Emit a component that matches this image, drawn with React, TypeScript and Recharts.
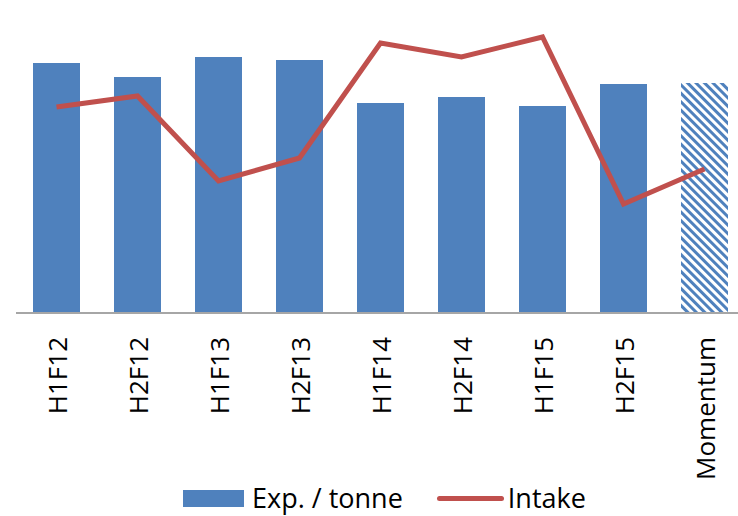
import { Bar, Cell, ComposedChart, Legend, Line, XAxis, YAxis } from "recharts";

const categories = ["H1F12", "H2F12", "H1F13", "H2F13", "H1F14", "H2F14", "H1F15", "H2F15", "Momentum"];
const expPerTonne = [250, 236, 256, 253, 210, 216, 207, 229, 230];
const intake = [206, 217, 132, 155, 270, 256, 276, 109, 144];
const hatchedCategory = "Momentum";

const BAR_COLOR = "#4F81BD";
const LINE_COLOR = "#C0504D";
const FONT = "'Open Sans', 'Noto Sans', sans-serif";

const rows = categories.map((name, i) => ({
  name,
  exp: expPerTonne[i],
  intake: intake[i],
}));

function RotatedTick({ x, y, payload }: { x?: number; y?: number; payload?: { value: string } }) {
  const tx = (x ?? 0) + 10;
  const ty = (y ?? 0) + 16;
  return (
    <text
      x={tx}
      y={ty}
      transform={`rotate(-90, ${tx}, ${ty})`}
      textAnchor="end"
      fontFamily={FONT}
      fontSize={26}
      fill="#000"
    >
      {payload?.value}
    </text>
  );
}

function ChartLegend() {
  return (
    <div
      style={{
        display: "flex",
        alignItems: "center",
        boxSizing: "border-box",
        height: 40,
        paddingTop: 6,
        paddingBottom: 2,
        paddingLeft: 167,
        fontFamily: FONT,
        fontSize: 27,
        color: "#000",
        lineHeight: "30px",
      }}
    >
      <span style={{ width: 61, height: 17, background: BAR_COLOR, display: "inline-block" }} />
      <span style={{ marginLeft: 8 }}>Exp. / tonne</span>
      <span
        style={{
          width: 67,
          height: 5,
          background: LINE_COLOR,
          borderRadius: 3,
          display: "inline-block",
          marginLeft: 34,
        }}
      />
      <span style={{ marginLeft: 4 }}>Intake</span>
    </div>
  );
}

export default function App() {
  return (
    <div
      style={{
        position: "absolute",
        top: 0,
        left: 0,
        width: 738,
        height: 516,
        overflow: "hidden",
        background: "#fff",
      }}
    >
      <ComposedChart
        width={750}
        height={516}
        data={rows}
        margin={{ top: 13, right: 5, bottom: 0, left: 16 }}
      >
        <defs>
          <pattern
            id="hatch"
            patternUnits="userSpaceOnUse"
            width={6}
            height={6}
            patternTransform="rotate(-45)"
          >
            <rect width={6} height={6} fill="#fff" />
            <line x1={1.5} y1={0} x2={1.5} y2={6} stroke={BAR_COLOR} strokeWidth={3} />
          </pattern>
        </defs>
        <XAxis
          dataKey="name"
          interval={0}
          height={163}
          tickLine={false}
          axisLine={{ stroke: "#A6A6A6", strokeWidth: 2 }}
          tick={<RotatedTick />}
        />
        <YAxis hide domain={[0, 300]} />
        <Legend verticalAlign="bottom" content={<ChartLegend />} wrapperStyle={{ height: 40 }} />
        <Bar dataKey="exp" name="Exp. / tonne" barSize={47} isAnimationActive={false}>
          {rows.map((row) => (
            <Cell key={row.name} fill={row.name === hatchedCategory ? "url(#hatch)" : BAR_COLOR} />
          ))}
        </Bar>
        <Line
          dataKey="intake"
          name="Intake"
          type="linear"
          stroke={LINE_COLOR}
          strokeWidth={5}
          dot={false}
          activeDot={false}
          isAnimationActive={false}
        />
      </ComposedChart>
    </div>
  );
}
